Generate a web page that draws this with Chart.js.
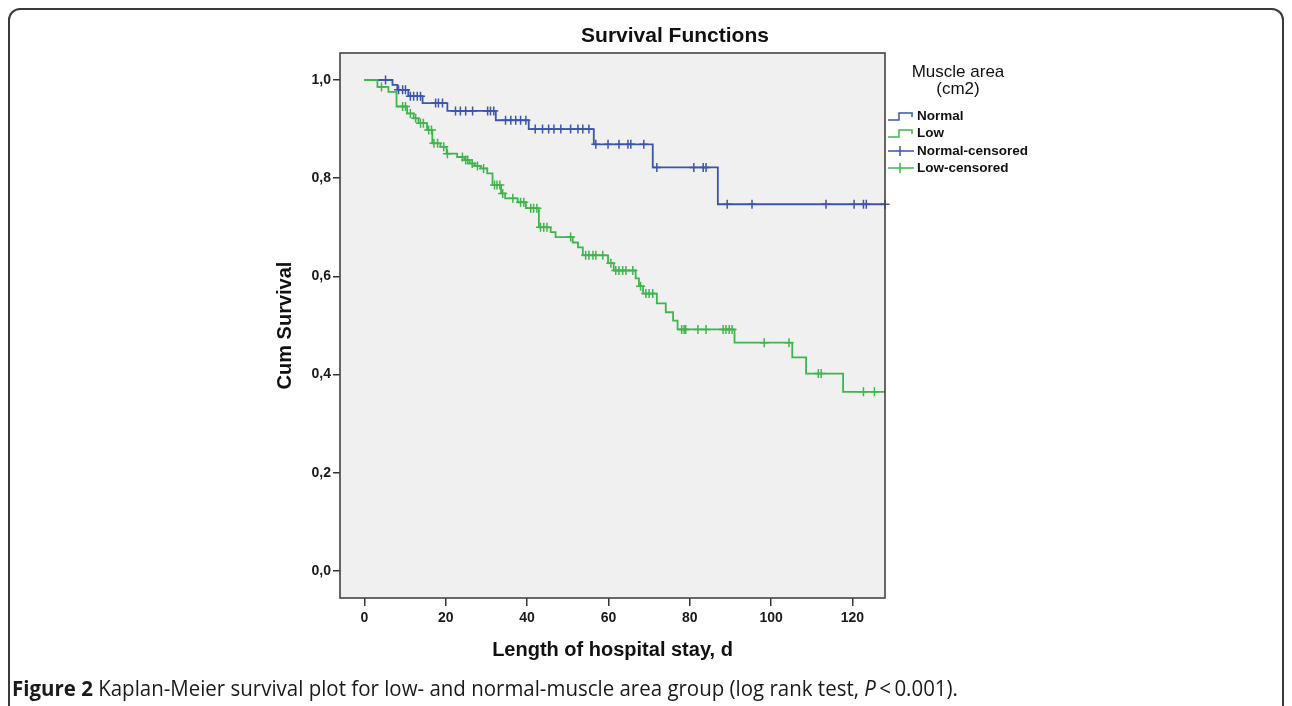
<!DOCTYPE html>
<html>
<head>
<meta charset="utf-8">
<script src="https://cdn.jsdelivr.net/npm/chart.js@4.4.0/dist/chart.umd.min.js"></script>
<style>
  html, body { margin: 0; padding: 0; background: #fff; width: 1292px; height: 706px; overflow: hidden; }
  #frame { position: absolute; left: 8px; top: 8px; width: 1272px; height: 760px; border: 2px solid #3a3a3a; border-radius: 12px; }
  #chart { position: absolute; left: 0; top: 0; }
  #caption { position: absolute; left: 12px; top: 678px; font-family: "Open Sans", sans-serif; font-size: 21px; line-height: 21px; color: #1a1a1a; white-space: nowrap; transform-origin: 0 0; }
</style>
</head>
<body>
<div id="frame"></div>
<canvas id="chart" width="1292" height="706"></canvas>
<div id="caption"><b>Figure 2</b> Kaplan-Meier survival plot for low- and normal-muscle area group (log rank test, <i>P</i>&#8201;&lt;&#8201;0.001).</div>
<script>
// Kaplan-Meier steps: event time (days) and survival after it
const normalTimes = [0, 6.9, 8.1, 10.8, 14.3, 20.4, 32.3, 40.4, 56.4, 70.9, 86.9, 128];
const normalSurv = [1.0, 0.99, 0.98, 0.967, 0.953, 0.937, 0.918, 0.90, 0.869, 0.822, 0.747, 0.747];
const normalCensored = [5.2, 8.4, 9.4, 10.1, 11.3, 12.1, 13.0, 13.8, 17.5, 18.2, 19.2, 22.4, 23.6, 24.9, 26.6, 30.3, 31.0, 31.8,
  34.7, 36.0, 37.2, 38.4, 39.7, 42.0, 43.8, 45.3, 46.6, 48.3, 50.7, 52.5, 53.7, 55.2, 56.9, 59.9, 62.6, 64.8, 65.5, 68.7,
  71.9, 81.0, 83.3, 84.0, 89.2, 95.3, 113.5, 120.4, 122.7, 123.4, 128];

const lowTimes = [0, 3.2, 5.9, 7.9, 10.5, 12.1, 13.3, 15.4, 16.7, 18.7, 20.2, 22.8, 24.6, 25.9, 27.1, 28.6, 30.2, 31.5, 33.6, 34.6,
  37.7, 39.7, 42.9, 45.8, 47.0, 51.2, 52.5, 53.7, 59.9, 61.3, 66.7, 67.5, 68.5, 71.9, 74.1, 75.9, 77.0, 91.0, 105.2, 108.6, 117.7, 128];
const lowSurv = [1.0, 0.986, 0.976, 0.946, 0.932, 0.922, 0.912, 0.898, 0.871, 0.864, 0.85, 0.843, 0.837, 0.83, 0.825, 0.82, 0.81, 0.786, 0.769, 0.759,
  0.751, 0.739, 0.70, 0.69, 0.68, 0.669, 0.659, 0.643, 0.627, 0.612, 0.596, 0.58, 0.565, 0.545, 0.527, 0.51, 0.492, 0.465, 0.435, 0.402, 0.365, 0.365];
const lowCensored = [4.2, 9.4, 10.1, 11.3, 12.6, 13.8, 14.5, 15.8, 16.5, 17.1, 18.0, 19.5, 20.4, 24.1, 24.9, 25.4, 26.5, 27.8, 29.3,
  32.0, 32.6, 33.3, 34.0, 36.5, 38.4, 39.2, 40.9, 41.6, 42.4, 43.3, 44.1, 44.9, 50.7, 54.4, 55.2, 56.2, 56.9, 58.6, 60.6, 61.8,
  62.6, 63.5, 64.3, 66.0, 67.9, 69.2, 70.0, 70.9, 78.0, 78.6, 79.0, 82.0, 84.0, 88.2, 88.9, 89.7, 90.4, 98.3, 104.4, 111.6,
  112.3, 122.7, 125.4];

const xTicks = [0, 20, 40, 60, 80, 100, 120];
const yTicks = [0, 0.2, 0.4, 0.6, 0.8, 1.0];
const yTickLabels = ["0,0", "0,2", "0,4", "0,6", "0,8", "1,0"];

const BLUE = "#3d54aa";
const GREEN = "#3fb54c";
const FONT = "'Liberation Sans', Arial, sans-serif";

// survival level holding at time t
function survAt(times, surv, t) {
  let s = surv[0];
  for (let i = 0; i < times.length; i++) if (times[i] <= t) s = surv[i];
  return s;
}

const steps = (times, surv) => times.map((t, i) => ({ x: t, y: surv[i] }));
const marks = (cens, times, surv) => cens.map(t => ({ x: t, y: survAt(times, surv, t) }));

const decor = {
  id: "decor",
  beforeDraw(chart) {
    const { ctx, chartArea: a } = chart;
    ctx.save();
    ctx.fillStyle = "#f0f0f0";
    ctx.fillRect(a.left, a.top, a.width, a.height);
    ctx.restore();
  },
  afterDraw(chart) {
    const { ctx, chartArea: a } = chart;
    ctx.save();
    ctx.strokeStyle = "#444";
    ctx.lineWidth = 1.6;
    ctx.strokeRect(a.left, a.top, a.width, a.height);

    ctx.fillStyle = "#111";
    ctx.textAlign = "center";
    ctx.textBaseline = "middle";
    ctx.font = "bold 21px " + FONT;
    ctx.fillText("Survival Functions", 675, 36);

    // legend
    ctx.font = "17px " + FONT;
    ctx.fillText("Muscle area", 958, 72);
    ctx.fillText("(cm2)", 958, 89);
    ctx.textAlign = "left";
    ctx.font = "bold 13.5px " + FONT;
    const rows = [116, 133, 151, 168];
    chart.data.datasets.forEach((ds, i) => {
      const y = rows[i];
      const x0 = 888;
      ctx.strokeStyle = ds.borderColor;
      ctx.lineWidth = 1.5;
      ctx.beginPath();
      if (ds.icon === "step") {
        ctx.moveTo(x0, y + 4); ctx.lineTo(x0 + 11, y + 4); ctx.lineTo(x0 + 11, y - 3);
        ctx.lineTo(x0 + 24, y - 3); ctx.lineTo(x0 + 24, y + 1);
      } else {
        ctx.moveTo(x0, y); ctx.lineTo(x0 + 26, y);
        ctx.moveTo(x0 + 12, y - 5); ctx.lineTo(x0 + 12, y + 5);
      }
      ctx.stroke();
      ctx.fillStyle = "#111";
      ctx.fillText(ds.label, 917, y);
    });
    ctx.restore();
  }
};

new Chart(document.getElementById("chart"), {
  type: "line",
  data: {
    datasets: [
      { label: "Normal", icon: "step", data: steps(normalTimes, normalSurv), borderColor: BLUE, borderWidth: 1.8,
        stepped: true, pointRadius: 0, fill: false, order: 3 },
      { label: "Low", icon: "step", data: steps(lowTimes, lowSurv), borderColor: GREEN, borderWidth: 1.8,
        stepped: true, pointRadius: 0, fill: false, order: 2 },
      { label: "Normal-censored", icon: "cross", data: marks(normalCensored, normalTimes, normalSurv), borderColor: BLUE,
        showLine: false, pointStyle: "cross", pointRadius: 4.5, pointBorderWidth: 1.5, clip: 8, order: 1 },
      { label: "Low-censored", icon: "cross", data: marks(lowCensored, lowTimes, lowSurv), borderColor: GREEN,
        showLine: false, pointStyle: "cross", pointRadius: 4.5, pointBorderWidth: 1.5, clip: 8, order: 0 }
    ]
  },
  options: {
    responsive: false,
    animation: false,
    layout: { padding: { left: 260, right: 407, top: 53, bottom: 38 } },
    plugins: { legend: { display: false }, tooltip: { enabled: false } },
    scales: {
      x: {
        type: "linear", min: -6, max: 128,
        afterBuildTicks: s => { s.ticks = xTicks.map(v => ({ value: v })); },
        afterFit: s => { s.height = 70; },
        border: { display: false },
        grid: { drawOnChartArea: false, tickLength: 8, color: "#333", lineWidth: 1.5 },
        ticks: { color: "#1a1a1a", padding: 4, maxRotation: 0, font: { family: FONT, size: 14, weight: "bold" } },
        title: { display: true, text: "Length of hospital stay, d", color: "#111",
          font: { family: FONT, size: 20, weight: "bold" }, padding: { top: 0, bottom: 6 } }
      },
      y: {
        min: -0.055, max: 1.055,
        afterBuildTicks: s => { s.ticks = yTicks.map(v => ({ value: v })); },
        afterFit: s => { s.width = 80; },
        border: { display: false },
        grid: { drawOnChartArea: false, tickLength: 7, color: "#333", lineWidth: 1.5 },
        ticks: { color: "#1a1a1a", padding: 2, font: { family: FONT, size: 14, weight: "bold" },
          callback: v => yTickLabels[yTicks.indexOf(v)] },
        title: { display: true, text: "Cum Survival", color: "#111",
          font: { family: FONT, size: 20, weight: "bold" }, padding: { top: 13, bottom: 0 } }
      }
    }
  },
  plugins: [decor]
});

// squeeze the caption to the width it has in the figure
const cap = document.getElementById("caption");
cap.style.transform = "scaleX(" + (946 / cap.getBoundingClientRect().width) + ")";
</script>
</body>
</html>
